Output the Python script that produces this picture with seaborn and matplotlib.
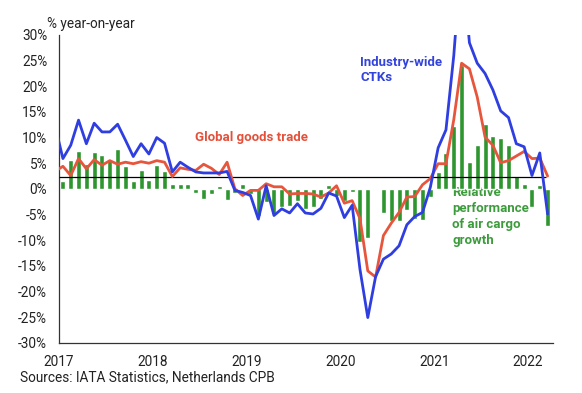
import numpy as np
import pandas as pd
import seaborn as sns
import matplotlib.pyplot as plt
from matplotlib.transforms import ScaledTranslation

# Monthly series, Dec 2016 - Mar 2022 (Dec 2016 only so the lines start at the axis)
line_months = pd.date_range("2016-12-01", "2022-03-01", freq="MS")

# Industry-wide CTKs, % year-on-year
ctk = [12.3,
       5.9, 8.5, 13.4, 8.8, 12.8, 11.1, 11.1, 12.6, 9.5, 6.3, 8.8, 6.8,        # 2017
       10.0, 8.9, 3.3, 5.2, 4.2, 3.3, 3.1, 3.1, 3.1, 3.4, -0.3, -0.7,         # 2018
       -1.3, -5.9, 0.6, -5.2, -3.9, -4.7, -2.9, -4.7, -4.9, -3.8, -0.8, -1.4, # 2019
       -5.6, -3.2, -15.7, -25.1, -17.1, -13.7, -12.7, -11.1, -7.0, -5.4, -4.6, 0.3,  # 2020
       8.0, 11.5, 26.0, 46.0, 28.5, 24.5, 22.5, 19.3, 15.2, 13.9, 8.8, 8.2,  # 2021
       2.6, 7.0, -4.9]                                                       # 2022

# Global goods trade, % year-on-year
trade = [3.4,
         4.4, 2.6, 5.9, 3.9, 5.7, 4.6, 5.5, 4.8, 5.2, 4.9, 5.3, 5.0,
         5.5, 5.2, 2.4, 4.1, 3.8, 3.6, 4.8, 4.0, 2.8, 5.2, 0.0, -1.3,
         -0.3, -0.3, 1.0, 0.4, 0.4, -1.0, -0.9, -0.9, -1.0, -1.6, -0.8, 0.6,
         -2.8, -2.3, -5.8, -16.0, -17.2, -9.1, -6.7, -4.6, -1.6, -1.5, 0.8, 2.0,
         4.9, 4.9, 13.5, 24.5, 23.4, 17.9, 10.1, 8.5, 5.1, 5.5, 6.4, 7.3,
         5.9, 6.0, 2.5]

# Relative performance of air cargo growth, Jan 2017 - Mar 2022
bar_months = pd.date_range("2017-01-01", "2022-03-01", freq="MS")
relative = [1.6, 5.7, 7.3, 4.9, 7.1, 6.6, 5.7, 7.8, 4.4, 1.5, 3.6, 1.8,
            4.6, 3.4, 1.0, 1.0, 1.0, -0.8, -2.0, -1.0, 0.5, -2.1, -0.8, 1.0,
            -1.0, -5.3, -2.5, -5.0, -3.5, -3.3, -2.4, -3.9, -3.6, -2.0, 0.7, -1.3,
            -2.3, -0.7, -10.4, -9.5, -0.2, -4.7, -6.2, -6.2, -4.2, -5.9, -6.0, -1.6,
            3.3, 7.0, 12.2, 24.1, 5.3, 8.5, 12.7, 10.4, 10.0, 8.5, 2.5, 1.0,
            -3.5, 0.8, -7.3]

ref_level = 2.35
years = [2017, 2018, 2019, 2020, 2021, 2022]
y_ticks = list(range(-30, 31, 5))


def mid_month(d):
    return d.year + (d.month - 0.5) / 12


lines = pd.DataFrame({"x": [mid_month(d) for d in line_months], "ctk": ctk, "trade": trade})
bars = pd.DataFrame({"x": [mid_month(d) for d in bar_months], "relative": relative})

blue = "#2f3ee0"
red = "#e8553d"
green = "#2e962f"

sns.set_style("white")
plt.rcParams["font.family"] = ["Roboto", "DejaVu Sans"]

fig = plt.figure(figsize=(5.82, 3.93), dpi=100)
ax = fig.add_axes([59 / 582, 1 - 342.7 / 393, (553 - 59) / 582, (342.7 - 35) / 393])

sns.barplot(data=bars, x="x", y="relative", native_scale=True, width=0.64,
            color=green, saturation=1, errorbar=None, ax=ax, zorder=2)
ax.hlines(ref_level, years[0], bars["x"].iloc[-1] - 0.02, color="black", lw=0.9, zorder=3)
sns.lineplot(data=lines, x="x", y="trade", color=red, lw=2.0, ax=ax, zorder=4)
sns.lineplot(data=lines, x="x", y="ctk", color=blue, lw=2.0, ax=ax, zorder=5)

ax.set_xlim(2017, 2022.266)
ax.set_ylim(-30, 30)
ax.set_xticks(years)
ax.set_xticklabels([str(y) for y in years])
ax.set_yticks(y_ticks)
ax.set_yticklabels([f"{v}%" for v in y_ticks])
ax.set_xlabel("")
ax.set_ylabel("")

for lab in ax.get_xticklabels():
    lab.set_transform(lab.get_transform() + ScaledTranslation(0.045, 0, fig.dpi_scale_trans))

ax.tick_params(axis="both", direction="out", length=3, width=0.8, color="#333333",
               labelsize=9.8, labelcolor="#222222", pad=5.5)
ax.tick_params(axis="x", pad=6)
for side in ["top", "right"]:
    ax.spines[side].set_visible(False)
for side in ["left", "bottom"]:
    ax.spines[side].set_color("#333333")
    ax.spines[side].set_linewidth(0.9)

ax.text(2020.21, 23.2, "Industry-wide\nCTKs", color="#3343dd", fontsize=9.5,
        fontweight="bold", va="center", ha="left", linespacing=1.25, zorder=6)
ax.text(2018.45, 10.0, "Global goods trade", color="#e4503a", fontsize=9.5,
        fontweight="bold", va="center", ha="left", zorder=6)
ax.text(2021.19, -5.3, "Relative\nperformance\nof air cargo\ngrowth", color="#3c9c3c",
        fontsize=9.5, fontweight="bold", va="center", ha="left", linespacing=1.3, zorder=1)

fig.text(47 / 582, 1 - 24 / 393, "% year-on-year", fontsize=9.8, color="#222222",
         ha="left", va="center")
fig.text(20 / 582, 1 - 377 / 393, "Sources: IATA Statistics, Netherlands CPB", fontsize=9.8,
         color="#222222", ha="left", va="center")

fig.savefig("out.png", dpi=100)
